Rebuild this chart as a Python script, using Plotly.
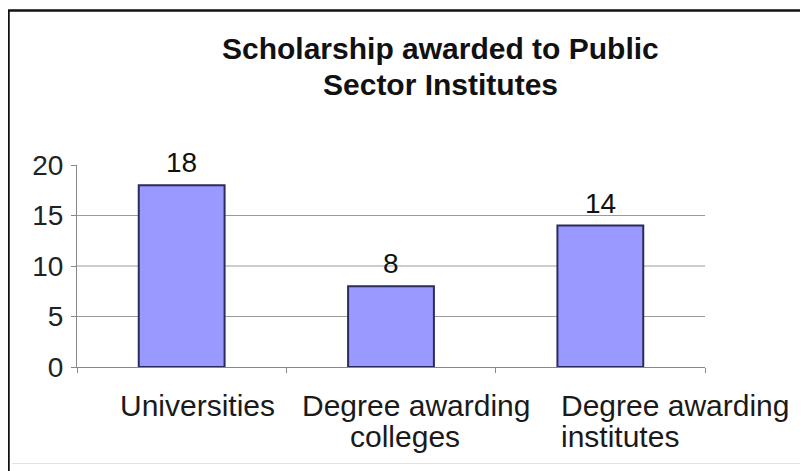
import plotly.graph_objects as go

categories = ["Universities", "Degree awarding colleges", "Degree awarding institutes"]
values = [18, 8, 14]
label_lines = [["Universities"], ["Degree awarding", "colleges"], ["Degree awarding", "institutes"]]
y_ticks = [0, 5, 10, 15, 20]
grid_vals = [5, 10, 15]
title_lines = ["Scholarship awarded to Public", "Sector Institutes"]

# page body has an 8px margin: work in reference pixel coords, shift by OFF
OFF = 8
W, H = 800, 463
PL, PR, PT, PB = 77, 705, 165, 367  # plot area in reference pixels
L, T = PL - OFF, PT - OFF
R, B = W - (PR - OFF), H - (PB - OFF)
PW, PH = PR - PL, PB - PT


def px_x(p):
    return (p - PL) / PW


def px_y(p):
    return (PB - p) / PH


FONT = "Arial, Liberation Sans, sans-serif"

fig = go.Figure()
fig.add_trace(go.Bar(
    x=categories, y=values, width=0.41,
    marker=dict(color="#9999FF", line=dict(color="#2b2b5c", width=2)),
    showlegend=False, hoverinfo="skip",
))

shapes = []
for g in grid_vals:
    shapes.append(dict(type="line", xref="paper", yref="y", x0=0, x1=1, y0=g, y1=g,
                       line=dict(color="#9a9a9a", width=1), layer="below"))
# outer frame
shapes.append(dict(type="rect", xref="paper", yref="paper",
                   x0=px_x(8.5), x1=px_x(840), y0=px_y(480), y1=px_y(10.5),
                   line=dict(color="#111111", width=2.5), fillcolor="rgba(0,0,0,0)"))
shapes.append(dict(type="line", xref="paper", yref="paper",
                   x0=px_x(12), x1=px_x(840), y0=px_y(463.5), y1=px_y(463.5),
                   line=dict(color="#e2e2e2", width=1)))

annotations = []
title_y = [49, 84]
for i, t in enumerate(title_lines):
    annotations.append(dict(text="<b>" + t + "</b>", xref="paper", yref="paper",
                            x=px_x(440), y=px_y(title_y[i]), xanchor="center", yanchor="middle",
                            showarrow=False,
                            font=dict(family=FONT, size=30, color="#111111")))

# value labels above bars
for c, v in zip(categories, values):
    annotations.append(dict(text=str(v), x=c, y=v, xref="x", yref="y",
                            xanchor="center", yanchor="bottom", yshift=5, showarrow=False,
                            font=dict(family=FONT, size=28, color="#111111")))

# category labels: (xanchor, xshift) per line
label_pos = [
    [("center", 16)],
    [("center", 25), ("center", 14)],
    [("left", -41.5), ("left", -41.5)],
]
line_y = [405, 436]
for ci, lines in enumerate(label_lines):
    for li, txt in enumerate(lines):
        anc, sh = label_pos[ci][li]
        annotations.append(dict(text=txt, x=categories[ci], xref="x", yref="paper",
                                y=px_y(line_y[li]), xanchor=anc, yanchor="middle",
                                xshift=sh, showarrow=False,
                                font=dict(family=FONT, size=30, color="#1a1a1a")))

fig.update_layout(
    width=W, height=H, margin=dict(l=L, r=R, t=T, b=B),
    paper_bgcolor="white", plot_bgcolor="white",
    shapes=shapes, annotations=annotations,
    xaxis=dict(showline=True, linecolor="#888888", linewidth=1, ticks="outside",
               tickson="boundaries", ticklen=5, tickcolor="#888888",
               showticklabels=False, showgrid=False, zeroline=False,
               range=[-0.5, 2.5]),
    yaxis=dict(range=[0, 20], tickvals=y_ticks, showline=True, linecolor="#888888",
               linewidth=1, ticks="outside", ticklen=5, tickcolor="#888888",
               showgrid=False, zeroline=False, ticklabelstandoff=2,
               tickfont=dict(family=FONT, size=28, color="#222222")),
)

fig.write_html("out.html")
